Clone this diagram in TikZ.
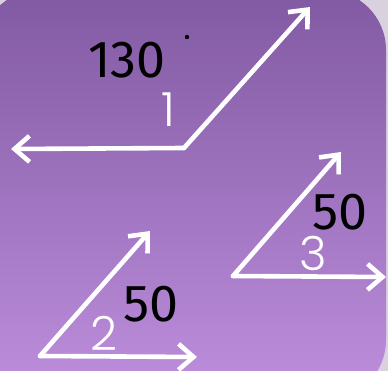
\documentclass[tikz,border=0pt]{standalone}
\usepackage{fontspec}
\usetikzlibrary{arrows.meta}
\newfontfamily\labelfont{Poppins Light}
\newfontfamily\handfont{Fira Sans}
\definecolor{slidetop}{HTML}{8159A2}
\definecolor{slidelow}{HTML}{BE8FDD}
\definecolor{slideedge}{HTML}{D9D2DE}

\begin{document}
\begin{tikzpicture}[x=1pt,y=-1pt,
    ray/.style={white, line width=4.6pt, line cap=round, line join=round,
                -{Straight Barb[length=15pt, width=26pt]}},
    num/.style={white, font=\labelfont\fontsize{47}{47}\selectfont, inner sep=0pt},
    hand/.style={black, font=\handfont\fontsize{52}{52}\selectfont, inner sep=0pt}]
    \useasboundingbox (0,0) rectangle (388,371);
    % slide background
    \fill[slideedge] (0,0) rectangle (388,371);
    \shade[top color=slidetop, bottom color=slidelow, rounded corners=60pt]
      (-20,-10) rectangle (386,400);
    % angle 1
    \coordinate (v1) at (184,148);
    \coordinate (l1) at (11,149);
    \coordinate (u1) at (310,7);
    \draw[ray] (v1) -- (l1);
    \draw[ray] (v1) -- (u1);
    \node[num] (n1) at (168,110) {1};
    \node[hand] (h1) at (127,60) {130};
    \fill (187,37) circle (2.2pt);
    % angle 3
    \coordinate (v3) at (233,276);
    \coordinate (u3) at (341,152);
    \coordinate (r3) at (386,277);
    \draw[ray] (v3) -- (u3);
    \draw[ray] (v3) -- (r3);
    \node[num] (n3) at (313,253) {3};
    \node[hand] (h3) at (340,212) {50};
    % angle 2
    \coordinate (v2) at (40,356);
    \coordinate (u2) at (150,231);
    \coordinate (r2) at (197,357);
    \draw[ray] (v2) -- (u2);
    \draw[ray] (v2) -- (r2);
    \node[num] (n2) at (104,333) {2};
    \node[hand] (h2) at (151,304) {50};
  \end{tikzpicture}
\end{document}
